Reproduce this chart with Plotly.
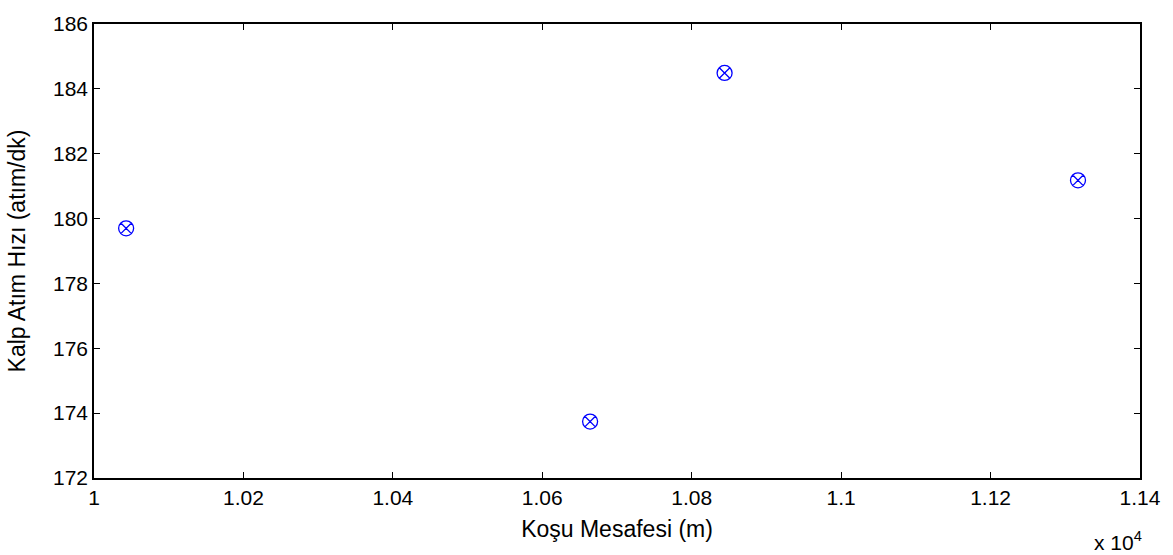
import plotly.graph_objects as go

# Running distance (m) and heart rate (beats/min)
distance_m = [10043, 10664, 10844, 11317]
heart_rate = [179.70, 173.74, 184.49, 181.18]

x_tick_vals = [10000, 10200, 10400, 10600, 10800, 11000, 11200, 11400]
x_tick_text = ["1", "1.02", "1.04", "1.06", "1.08", "1.1", "1.12", "1.14"]
y_tick_vals = [172, 174, 176, 178, 180, 182, 184, 186]

font_family = "Liberation Sans, Arial, sans-serif"
tick_size = 21
title_size = 23

fig = go.Figure()
fig.add_trace(go.Scatter(
    x=distance_m,
    y=heart_rate,
    mode="markers",
    marker=dict(symbol="circle-x-open", size=15, color="#0000ff",
                line=dict(width=1.3, color="#0000ff")),
    showlegend=False,
))

axis_common = dict(
    showgrid=False,
    zeroline=False,
    showline=True,
    linecolor="black",
    linewidth=1.5,
    mirror="ticks",
    ticks="inside",
    ticklen=6,
    tickwidth=1,
    tickcolor="black",
    tickfont=dict(family=font_family, size=tick_size, color="black"),
)

fig.update_xaxes(
    range=[10000, 11400],
    tickvals=x_tick_vals,
    ticktext=x_tick_text,
    title=dict(text="Koşu Mesafesi (m)", font=dict(family=font_family, size=title_size, color="black"),
               standoff=13),
    **axis_common,
)
fig.update_yaxes(
    range=[172, 186],
    tickvals=y_tick_vals,
    title=dict(text="Kalp Atım Hızı (atım/dk)", font=dict(family=font_family, size=title_size, color="black"),
               standoff=21),
    **axis_common,
)

# Exponent label for the x axis scale
fig.add_annotation(
    text="x 10<sup>4</sup>",
    xref="paper", yref="paper",
    x=0.979, y=-0.105,
    xanchor="center", yanchor="top",
    showarrow=False,
    font=dict(family=font_family, size=tick_size, color="black"),
)

fig.update_layout(
    width=1173,
    height=555,
    margin=dict(l=94, r=31, t=16, b=77),
    paper_bgcolor="white",
    plot_bgcolor="white",
)

fig.write_html("out.html")
